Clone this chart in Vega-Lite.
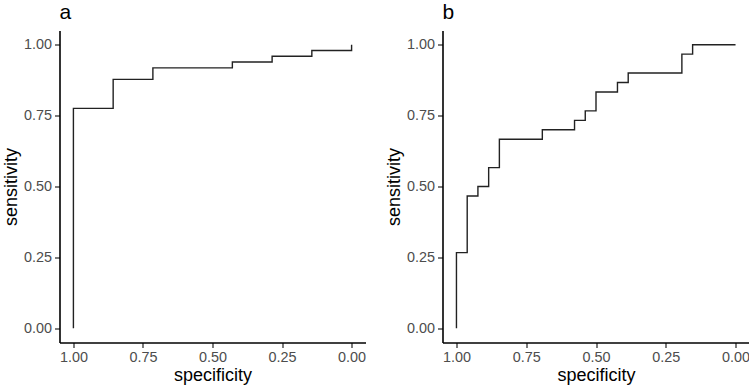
{
  "$schema": "https://vega.github.io/schema/vega-lite/v6.json",
  "padding": {"left": 1.5, "top": 1.5, "right": 0, "bottom": 0},
  "config": {
    "view": {"stroke": null},
    "font": "Liberation Sans",
    "concat": {"spacing": 18},
    "axis": {
      "grid": false,
      "domainColor": "#000000",
      "domainWidth": 1.6,
      "tickColor": "#333333",
      "tickWidth": 1.3,
      "tickSize": 5,
      "labelColor": "#4d4d4d",
      "labelFontSize": 14.4,
      "labelPadding": 3,
      "titleFontSize": 18,
      "titleFontWeight": "normal",
      "titleColor": "#000000",
      "titlePadding": 3
    },
    "title": {"fontSize": 21, "fontWeight": "normal", "color": "#000000", "anchor": "start", "frame": "group", "offset": 8}
  },
  "datasets": {
    "rocA": [
      {"step": 1, "specificity": 1, "sensitivity": 0},
      {"step": 2, "specificity": 1, "sensitivity": 0.7755},
      {"step": 3, "specificity": 0.8571, "sensitivity": 0.7755},
      {"step": 4, "specificity": 0.8571, "sensitivity": 0.8776},
      {"step": 5, "specificity": 0.7143, "sensitivity": 0.8776},
      {"step": 6, "specificity": 0.7143, "sensitivity": 0.9184},
      {"step": 7, "specificity": 0.4286, "sensitivity": 0.9184},
      {"step": 8, "specificity": 0.4286, "sensitivity": 0.9388},
      {"step": 9, "specificity": 0.2857, "sensitivity": 0.9388},
      {"step": 10, "specificity": 0.2857, "sensitivity": 0.9592},
      {"step": 11, "specificity": 0.1429, "sensitivity": 0.9592},
      {"step": 12, "specificity": 0.1429, "sensitivity": 0.9796},
      {"step": 13, "specificity": 0, "sensitivity": 0.9796},
      {"step": 14, "specificity": 0, "sensitivity": 1}
    ],
    "rocB": [
      {"step": 1, "specificity": 1, "sensitivity": 0},
      {"step": 2, "specificity": 1, "sensitivity": 0.2667},
      {"step": 3, "specificity": 0.9615, "sensitivity": 0.2667},
      {"step": 4, "specificity": 0.9615, "sensitivity": 0.4667},
      {"step": 5, "specificity": 0.9231, "sensitivity": 0.4667},
      {"step": 6, "specificity": 0.9231, "sensitivity": 0.5},
      {"step": 7, "specificity": 0.8846, "sensitivity": 0.5},
      {"step": 8, "specificity": 0.8846, "sensitivity": 0.5667},
      {"step": 9, "specificity": 0.8462, "sensitivity": 0.5667},
      {"step": 10, "specificity": 0.8462, "sensitivity": 0.6667},
      {"step": 11, "specificity": 0.6923, "sensitivity": 0.6667},
      {"step": 12, "specificity": 0.6923, "sensitivity": 0.7},
      {"step": 13, "specificity": 0.5769, "sensitivity": 0.7},
      {"step": 14, "specificity": 0.5769, "sensitivity": 0.7333},
      {"step": 15, "specificity": 0.5385, "sensitivity": 0.7333},
      {"step": 16, "specificity": 0.5385, "sensitivity": 0.7667},
      {"step": 17, "specificity": 0.5, "sensitivity": 0.7667},
      {"step": 18, "specificity": 0.5, "sensitivity": 0.8333},
      {"step": 19, "specificity": 0.4231, "sensitivity": 0.8333},
      {"step": 20, "specificity": 0.4231, "sensitivity": 0.8667},
      {"step": 21, "specificity": 0.3846, "sensitivity": 0.8667},
      {"step": 22, "specificity": 0.3846, "sensitivity": 0.9},
      {"step": 23, "specificity": 0.1923, "sensitivity": 0.9},
      {"step": 24, "specificity": 0.1923, "sensitivity": 0.9667},
      {"step": 25, "specificity": 0.1538, "sensitivity": 0.9667},
      {"step": 26, "specificity": 0.1538, "sensitivity": 1},
      {"step": 27, "specificity": 0, "sensitivity": 1}
    ]
  },
  "hconcat": [
    {
      "title": "a",
      "width": 306,
      "height": 312,
      "data": {"name": "rocA"},
      "mark": {"type": "line", "color": "#222222", "strokeWidth": 1.4},
      "encoding": {
        "x": {"field": "specificity", "type": "quantitative", "scale": {"domain": [-0.05, 1.05], "reverse": true, "nice": false, "zero": false}, "axis": {"values": [0, 0.25, 0.5, 0.75, 1], "format": ".2f"}},
        "y": {"field": "sensitivity", "type": "quantitative", "scale": {"domain": [-0.05, 1.05], "nice": false, "zero": false}, "axis": {"values": [0, 0.25, 0.5, 0.75, 1], "format": ".2f"}},
        "order": {"field": "step", "type": "quantitative"}
      }
    },
    {
      "title": "b",
      "width": 307,
      "height": 312,
      "data": {"name": "rocB"},
      "mark": {"type": "line", "color": "#222222", "strokeWidth": 1.4},
      "encoding": {
        "x": {"field": "specificity", "type": "quantitative", "scale": {"domain": [-0.05, 1.05], "reverse": true, "nice": false, "zero": false}, "axis": {"values": [0, 0.25, 0.5, 0.75, 1], "format": ".2f"}},
        "y": {"field": "sensitivity", "type": "quantitative", "scale": {"domain": [-0.05, 1.05], "nice": false, "zero": false}, "axis": {"values": [0, 0.25, 0.5, 0.75, 1], "format": ".2f"}},
        "order": {"field": "step", "type": "quantitative"}
      }
    }
  ]
}
